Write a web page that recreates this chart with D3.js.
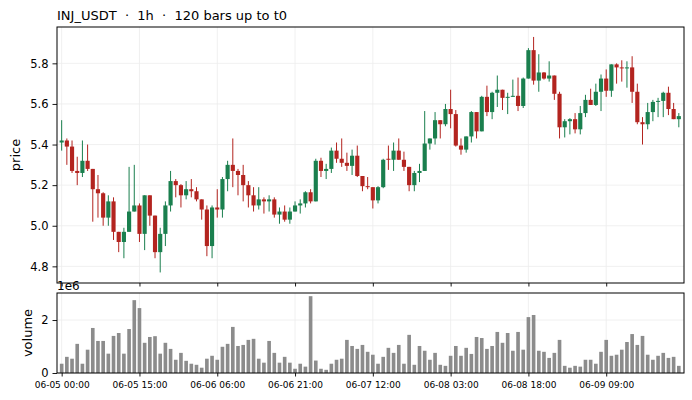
<!DOCTYPE html>
<html>
<head>
<meta charset="utf-8">
<script src="https://cdn.jsdelivr.net/npm/d3@7"></script>
<style>
  body { margin: 0; background: #fff; }
  text { font-family: "DejaVu Sans", sans-serif; fill: #000; }
</style>
</head>
<body>
<div id="chart"></div>
<script>
// chart data
const chartTitle = 'INJ_USDT  ·  1h  ·  120 bars up to t0';
const openP = [
  5.41, 5.42, 5.39, 5.27, 5.26, 5.32, 5.28, 5.18, 5.16, 5.04,
  5.12, 4.97, 4.92, 4.97, 5.07, 5.10, 4.96, 5.15, 5.05, 4.87,
  4.96, 5.10, 5.22, 5.20, 5.15, 5.18, 5.17, 5.13, 5.08, 4.90,
  5.09, 5.08, 5.23, 5.30, 5.27, 5.25, 5.20, 5.15, 5.10, 5.13,
  5.12, 5.13, 5.055, 5.07, 5.03, 5.07, 5.10, 5.11, 5.165, 5.12,
  5.32, 5.27, 5.28, 5.37, 5.33, 5.31, 5.295, 5.345, 5.245, 5.195,
  5.19, 5.125, 5.19, 5.33, 5.325, 5.37, 5.325, 5.29, 5.20, 5.26,
  5.27, 5.405, 5.43, 5.52, 5.50, 5.575, 5.55, 5.395, 5.375, 5.44,
  5.56, 5.465, 5.635, 5.56, 5.655, 5.67, 5.63, 5.635, 5.64, 5.59,
  5.725, 5.865, 5.715, 5.755, 5.725, 5.74, 5.65, 5.485, 5.515, 5.525,
  5.475, 5.555, 5.62, 5.595, 5.66, 5.725, 5.665, 5.795, 5.78, 5.775,
  5.78, 5.66, 5.51, 5.50, 5.56, 5.61, 5.615, 5.655, 5.575, 5.525
];
const highP = [
  5.52, 5.43, 5.42, 5.34, 5.42, 5.40, 5.28, 5.25, 5.165, 5.15,
  5.14, 4.97, 4.99, 5.29, 5.30, 5.11, 5.15, 5.15, 5.05, 4.99,
  5.12, 5.27, 5.23, 5.205, 5.22, 5.23, 5.19, 5.13, 5.10, 5.10,
  5.18, 5.24, 5.32, 5.43, 5.28, 5.30, 5.22, 5.19, 5.19, 5.14,
  5.15, 5.14, 5.09, 5.10, 5.09, 5.12, 5.13, 5.17, 5.18, 5.33,
  5.335, 5.305, 5.385, 5.41, 5.43, 5.36, 5.375, 5.395, 5.245, 5.24,
  5.19, 5.195, 5.33, 5.395, 5.41, 5.43, 5.365, 5.29, 5.27, 5.305,
  5.565, 5.43, 5.56, 5.52, 5.60, 5.67, 5.57, 5.43, 5.44, 5.565,
  5.56, 5.64, 5.69, 5.66, 5.74, 5.67, 5.655, 5.72, 5.73, 5.73,
  5.875, 5.93, 5.845, 5.757, 5.81, 5.74, 5.66, 5.525, 5.53, 5.555,
  5.59, 5.645, 5.675, 5.70, 5.745, 5.77, 5.795, 5.80, 5.815, 5.81,
  5.835, 5.70, 5.535, 5.605, 5.62, 5.63, 5.66, 5.685, 5.605, 5.555
];
const lowP = [
  5.37, 5.30, 5.26, 5.20, 5.24, 5.27, 5.02, 5.04, 5.00, 5.00,
  4.93, 4.87, 4.84, 4.97, 5.07, 4.92, 4.88, 5.00, 4.84, 4.77,
  4.90, 5.07, 5.14, 5.09, 5.13, 5.14, 5.12, 5.03, 4.85, 4.84,
  5.04, 5.04, 5.17, 5.19, 5.15, 5.12, 5.09, 5.07, 5.08, 5.06,
  5.07, 5.04, 5.01, 5.02, 5.01, 5.07, 5.06, 5.09, 5.11, 5.12,
  5.24, 5.23, 5.26, 5.31, 5.29, 5.27, 5.25, 5.24, 5.17, 5.18,
  5.085, 5.11, 5.185, 5.275, 5.27, 5.325, 5.27, 5.17, 5.17, 5.215,
  5.27, 5.375, 5.40, 5.43, 5.49, 5.48, 5.39, 5.35, 5.36, 5.41,
  5.43, 5.465, 5.54, 5.525, 5.585, 5.57, 5.55, 5.635, 5.565, 5.58,
  5.725, 5.695, 5.66, 5.72, 5.71, 5.62, 5.43, 5.435, 5.45, 5.455,
  5.45, 5.535, 5.595, 5.59, 5.565, 5.635, 5.635, 5.70, 5.71, 5.68,
  5.605, 5.50, 5.40, 5.475, 5.515, 5.535, 5.535, 5.545, 5.525, 5.485
];
const closeP = [
  5.42, 5.39, 5.27, 5.26, 5.32, 5.28, 5.18, 5.16, 5.04, 5.12,
  4.97, 4.92, 4.97, 5.07, 5.10, 4.96, 5.15, 5.05, 4.87, 4.96,
  5.10, 5.22, 5.20, 5.15, 5.18, 5.17, 5.13, 5.08, 4.90, 5.09,
  5.08, 5.23, 5.30, 5.27, 5.25, 5.20, 5.15, 5.10, 5.13, 5.12,
  5.13, 5.055, 5.07, 5.03, 5.07, 5.10, 5.11, 5.165, 5.12, 5.32,
  5.27, 5.28, 5.37, 5.33, 5.31, 5.295, 5.345, 5.245, 5.195, 5.19,
  5.125, 5.19, 5.325, 5.325, 5.37, 5.325, 5.29, 5.20, 5.26, 5.27,
  5.405, 5.43, 5.52, 5.50, 5.575, 5.55, 5.395, 5.375, 5.44, 5.56,
  5.465, 5.635, 5.56, 5.655, 5.67, 5.63, 5.635, 5.64, 5.59, 5.725,
  5.865, 5.715, 5.755, 5.725, 5.74, 5.65, 5.485, 5.515, 5.525, 5.475,
  5.555, 5.62, 5.595, 5.66, 5.725, 5.665, 5.795, 5.78, 5.775, 5.78,
  5.66, 5.51, 5.50, 5.56, 5.61, 5.615, 5.655, 5.575, 5.525, 5.54
];
// in millions
const volumeM = [
  0.35, 0.61, 0.54, 1.10, 0.35, 0.88, 1.70, 1.21, 1.21, 0.73,
  1.40, 1.51, 0.73, 1.66, 2.75, 2.45, 1.14, 1.36, 1.39, 0.73,
  1.14, 0.91, 0.50, 0.76, 0.46, 0.35, 0.31, 0.20, 0.54, 0.65,
  0.50, 0.99, 1.10, 1.74, 1.02, 1.06, 1.25, 1.29, 0.54, 0.39,
  1.21, 0.76, 0.39, 0.61, 0.39, 0.16, 0.35, 0.24, 2.90, 0.47,
  0.16, 0.12, 0.35, 0.50, 0.54, 1.25, 1.02, 0.91, 1.06, 0.80,
  0.69, 0.35, 0.61, 0.95, 0.76, 1.06, 0.35, 1.44, 0.31, 1.02,
  0.84, 0.50, 0.76, 0.31, 0.27, 0.65, 1.02, 0.65, 0.95, 0.72,
  1.36, 1.32, 0.91, 1.02, 1.55, 1.14, 1.51, 0.84, 1.55, 0.88,
  2.11, 2.19, 0.84, 0.80, 0.57, 0.76, 1.25, 0.27, 0.20, 0.27,
  0.24, 0.50, 0.50, 0.35, 0.80, 1.25, 0.65, 0.69, 0.88, 1.17,
  1.47, 1.06, 1.40, 0.69, 0.50, 0.65, 0.76, 0.57, 0.61, 0.27
];
const xTickIndex = [0, 15, 30, 45, 60, 75, 90, 105];
const xTickLabels = ['06-05 00:00', '06-05 15:00', '06-06 06:00', '06-06 21:00',
                     '06-07 12:00', '06-08 03:00', '06-08 18:00', '06-09 09:00'];
const priceTicks = [4.8, 5.0, 5.2, 5.4, 5.6, 5.8];
const volumeTicks = [0, 2];

const upColor = '#1a7f4e';
const downColor = '#b3241f';
const volColor = '#8c8c8c';
const gridColor = '#ececec';

const width = 692, height = 400;
const plotLeft = 57, plotRight = 684;
const priceTop = 27, priceBottom = 283;
const volTop = 293, volBottom = 373;

const bars = openP.map((o, i) => ({
  i: i, o: o, h: highP[i], l: lowP[i], c: closeP[i], v: volumeM[i]
}));

const svg = d3.select('#chart').append('svg')
  .attr('width', width)
  .attr('height', height);

// scales
const x = d3.scaleLinear().domain([-0.9, 120]).range([plotLeft, plotRight]);
const yPrice = d3.scaleLinear().domain([4.718, 5.979]).range([priceBottom, priceTop]);
const yVol = d3.scaleLinear().domain([0, 3.02]).range([volBottom, volTop]);
const step = x(1) - x(0);

// title
svg.append('text')
  .attr('x', plotLeft)
  .attr('y', 19.5)
  .style('font-size', '13px')
  .style('white-space', 'pre')
  .text(chartTitle);

// grids
function addGrid(top, bottom, yScale, ticks) {
  const g = svg.append('g');
  g.selectAll('line.gx').data(xTickIndex).join('line')
    .attr('x1', d => x(d)).attr('x2', d => x(d))
    .attr('y1', top).attr('y2', bottom)
    .attr('stroke', gridColor).attr('stroke-width', 0.8);
  g.selectAll('line.gy').data(ticks).join('line')
    .attr('x1', plotLeft).attr('x2', plotRight)
    .attr('y1', d => yScale(d)).attr('y2', d => yScale(d))
    .attr('stroke', gridColor).attr('stroke-width', 0.8);
}
addGrid(priceTop, priceBottom, yPrice, priceTicks);
addGrid(volTop, volBottom, yVol, volumeTicks);

// candles
const candles = svg.append('g');
candles.selectAll('line.wick').data(bars).join('line')
  .attr('class', 'wick')
  .attr('x1', d => x(d.i)).attr('x2', d => x(d.i))
  .attr('y1', d => yPrice(d.h)).attr('y2', d => yPrice(d.l))
  .attr('stroke', d => d.c >= d.o ? upColor : downColor)
  .attr('stroke-width', 1);

const bodyW = step * 0.8;
candles.selectAll('rect.body').data(bars).join('rect')
  .attr('class', 'body')
  .attr('x', d => x(d.i) - bodyW / 2)
  .attr('width', bodyW)
  .attr('y', d => yPrice(Math.max(d.o, d.c)))
  .attr('height', d => Math.max(0.8, Math.abs(yPrice(d.o) - yPrice(d.c))))
  .attr('fill', d => d.c >= d.o ? upColor : downColor);

// volume bars
const volW = step * 0.7;
svg.append('g').selectAll('rect').data(bars).join('rect')
  .attr('x', d => x(d.i) - volW / 2)
  .attr('width', volW)
  .attr('y', d => yVol(d.v))
  .attr('height', d => yVol(0) - yVol(d.v))
  .attr('fill', volColor);

// axes
function styleAxis(g, size) {
  g.select('.domain').remove();
  g.selectAll('.tick line').attr('stroke', '#000').attr('stroke-width', 0.9);
  g.selectAll('.tick text')
    .style('font-family', '"DejaVu Sans", sans-serif')
    .style('font-size', size)
    .attr('fill', '#000');
}

svg.append('g')
  .attr('transform', `translate(${plotLeft},0)`)
  .call(d3.axisLeft(yPrice).tickValues(priceTicks).tickFormat(d3.format('.1f'))
    .tickSize(4.5).tickPadding(4))
  .call(g => styleAxis(g, '11.5px'));

svg.append('g')
  .attr('transform', `translate(${plotLeft},0)`)
  .call(d3.axisLeft(yVol).tickValues(volumeTicks).tickFormat(d3.format('d'))
    .tickSize(4.5).tickPadding(4))
  .call(g => styleAxis(g, '11.5px'));

svg.append('g')
  .attr('transform', `translate(0,${priceBottom})`)
  .call(d3.axisBottom(x).tickValues(xTickIndex).tickFormat('').tickSize(3.5))
  .call(g => styleAxis(g, '9px'));

svg.append('g')
  .attr('transform', `translate(0,${volBottom})`)
  .call(d3.axisBottom(x).tickValues(xTickIndex)
    .tickFormat((d, k) => xTickLabels[k]).tickSize(3.5).tickPadding(5.5))
  .call(g => styleAxis(g, '9px'));

// frames
[[priceTop, priceBottom], [volTop, volBottom]].forEach(([t, b]) => {
  svg.append('rect')
    .attr('x', plotLeft).attr('y', t)
    .attr('width', plotRight - plotLeft).attr('height', b - t)
    .attr('fill', 'none').attr('stroke', '#000').attr('stroke-width', 1);
});

// axis labels
svg.append('text')
  .attr('text-anchor', 'middle')
  .attr('transform', `translate(19.5, ${(priceTop + priceBottom) / 2}) rotate(-90)`)
  .style('font-size', '13px')
  .text('price');

svg.append('text')
  .attr('text-anchor', 'middle')
  .attr('transform', `translate(32, ${(volTop + volBottom) / 2}) rotate(-90)`)
  .style('font-size', '13px')
  .text('volume');

// offset text for volume axis
svg.append('text')
  .attr('x', plotLeft)
  .attr('y', 289.5)
  .style('font-size', '12px')
  .text('1e6');
</script>
</body>
</html>
